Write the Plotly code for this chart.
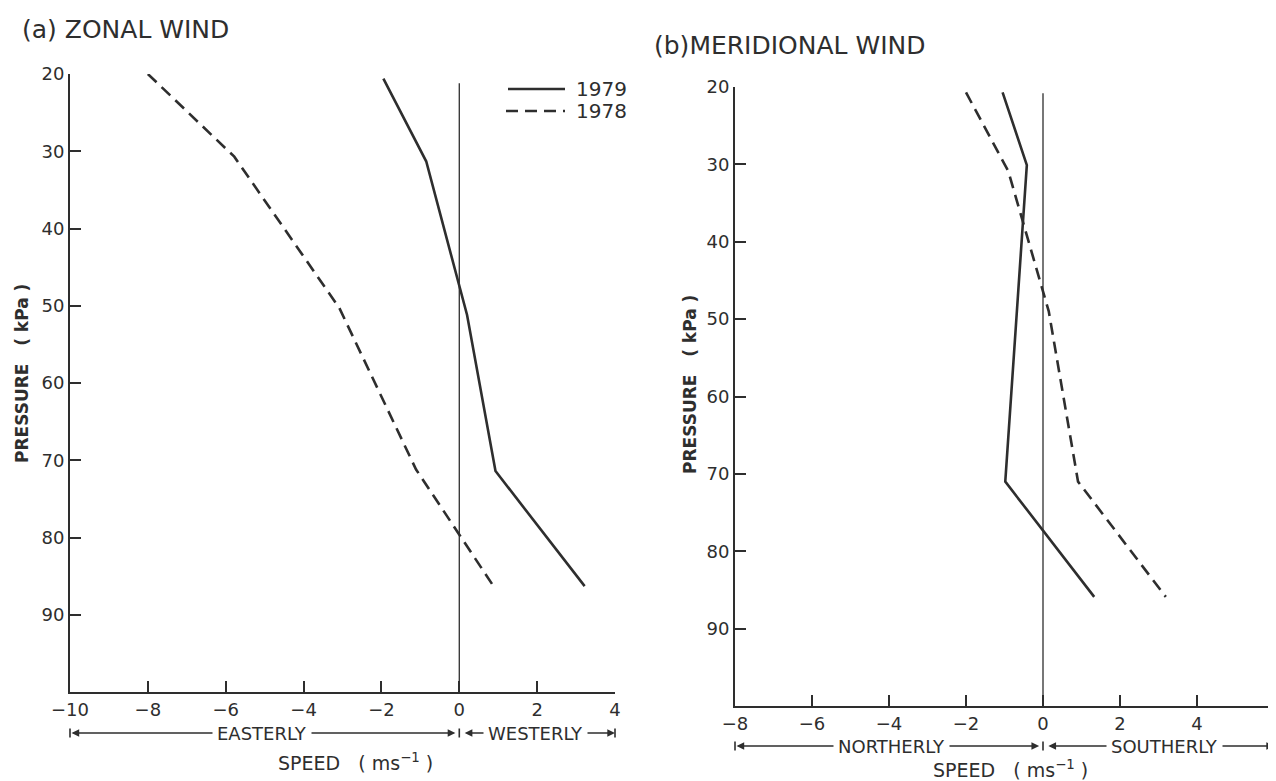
import plotly.graph_objects as go

# ---------------- data ----------------
zonal_1979_speed = [-1.95, -0.85, 0.2, 0.93, 3.22]
zonal_1979_pres = [20.6, 31.3, 51.2, 71.4, 86.3]
zonal_1978_speed = [-8.0, -5.78, -3.08, -1.11, 0.84]
zonal_1978_pres = [20.0, 30.7, 50.3, 71.2, 86.0]

merid_1979_speed = [-1.05, -0.42, -0.98, 1.33]
merid_1979_pres = [20.7, 30.1, 71.0, 85.9]
merid_1978_speed = [-2.0, -0.9, 0.15, 0.91, 3.19]
merid_1978_pres = [20.7, 30.9, 49.0, 71.0, 85.9]

pressure_ticks = [20, 30, 40, 50, 60, 70, 80, 90]
zonal_xticks = [-10, -8, -6, -4, -2, 0, 2, 4]
merid_xticks = [-8, -6, -4, -2, 0, 2, 4, 6]

W, H = 1276, 781
OFF = 8  # page body margin
INK = "#2e2e2e"
FONT = "DejaVu Sans"


def px(x):
    return (x - OFF) / W


def py(y):
    return 1 - (y - OFF) / H


def lab(v):
    return str(v).replace("-", "\u2212")


fig = go.Figure()

line_w = 2.6
dash = "12px,7px"
fig.add_trace(go.Scatter(x=zonal_1979_speed, y=zonal_1979_pres, mode="lines",
                         line=dict(color=INK, width=line_w), name="1979",
                         xaxis="x", yaxis="y", showlegend=False))
fig.add_trace(go.Scatter(x=zonal_1978_speed, y=zonal_1978_pres, mode="lines",
                         line=dict(color=INK, width=line_w, dash=dash), name="1978",
                         xaxis="x", yaxis="y", showlegend=False))
fig.add_trace(go.Scatter(x=merid_1979_speed, y=merid_1979_pres, mode="lines",
                         line=dict(color=INK, width=line_w), name="1979",
                         xaxis="x2", yaxis="y2", showlegend=False))
fig.add_trace(go.Scatter(x=merid_1978_speed, y=merid_1978_pres, mode="lines",
                         line=dict(color=INK, width=line_w, dash=dash), name="1978",
                         xaxis="x2", yaxis="y2", showlegend=False))

axis_common = dict(showline=True, linecolor=INK, linewidth=2, ticks="inside",
                   ticklen=11, tickwidth=2, tickcolor=INK, showgrid=False,
                   zeroline=False, automargin=False,
                   tickfont=dict(family=FONT, size=18, color=INK))

fig.update_layout(
    width=W, height=H,
    template="none",
    margin=dict(l=0, r=0, t=0, b=0, autoexpand=False),
    paper_bgcolor="white", plot_bgcolor="white",
    xaxis=dict(domain=[px(70), px(615)], range=[-10, 4], tickvals=zonal_xticks,
               ticktext=[lab(v) for v in zonal_xticks], anchor="y", **axis_common),
    yaxis=dict(domain=[py(692), py(74)], range=[100, 20], tickvals=pressure_ticks,
               anchor="x", **axis_common),
    xaxis2=dict(domain=[px(735), px(1274)], range=[-8, 6], tickvals=merid_xticks,
                ticktext=[lab(v) for v in merid_xticks], anchor="y2", **axis_common),
    yaxis2=dict(domain=[py(706), py(87)], range=[100, 20], tickvals=pressure_ticks,
                anchor="x2", **axis_common),
)

# zero reference lines
fig.add_shape(type="line", xref="x", yref="y", x0=0, x1=0, y0=21.2, y1=100,
              line=dict(color=INK, width=1.3))
fig.add_shape(type="line", xref="x2", yref="y2", x0=0, x1=0, y0=20.8, y1=100,
              line=dict(color=INK, width=1.3))

# legend (drawn manually)
fig.add_shape(type="line", xref="paper", yref="paper", x0=px(508), x1=px(565),
              y0=py(89), y1=py(89), line=dict(color=INK, width=line_w))
fig.add_shape(type="line", xref="paper", yref="paper", x0=px(506), x1=px(565),
              y0=py(111), y1=py(111), line=dict(color=INK, width=line_w, dash=dash))
ann = []
ann.append(dict(x=px(574), y=py(89), xref="paper", yref="paper", text="1979",
                showarrow=False, xanchor="left", yanchor="middle",
                font=dict(family=FONT, size=20, color=INK)))
ann.append(dict(x=px(574), y=py(111), xref="paper", yref="paper", text="1978",
                showarrow=False, xanchor="left", yanchor="middle",
                font=dict(family=FONT, size=20, color=INK)))

# titles
ann.append(dict(x=px(20), y=py(29), xref="paper", yref="paper", text="(a) ZONAL WIND",
                showarrow=False, xanchor="left", yanchor="middle",
                font=dict(family=FONT, size=25, color=INK)))
ann.append(dict(x=px(652), y=py(45), xref="paper", yref="paper", text="(b)MERIDIONAL WIND",
                showarrow=False, xanchor="left", yanchor="middle",
                font=dict(family=FONT, size=25, color=INK)))

# y-axis titles
for xx, yy in [(22, 374), (690, 385)]:
    ann.append(dict(x=px(xx), y=py(yy), xref="paper", yref="paper",
                    text="<b>PRESSURE&nbsp;&nbsp;&nbsp;( kPa )</b>", textangle=-90,
                    showarrow=False, xanchor="center", yanchor="middle",
                    font=dict(family=FONT, size=17, color=INK)))

# speed titles
ann.append(dict(x=-2.67, y=py(762), xref="x", yref="paper",
                text="SPEED&nbsp;&nbsp;&nbsp;( ms<sup>\u22121</sup> )", showarrow=False,
                xanchor="center", yanchor="middle",
                font=dict(family=FONT, size=19, color=INK)))
ann.append(dict(x=-0.85, y=py(769), xref="x2", yref="paper",
                text="SPEED&nbsp;&nbsp;&nbsp;( ms<sup>\u22121</sup> )", showarrow=False,
                xanchor="center", yanchor="middle",
                font=dict(family=FONT, size=19, color=INK)))


def arrow_row(xref, yrow, a, b, label, label_x):
    y = py(yrow)
    # double-headed arrow from a to b
    ann.append(dict(x=b, y=y, ax=a, ay=0, xref=xref, yref="paper", axref=xref,
                    ayref="pixel", text="", showarrow=True, arrowhead=2,
                    startarrowhead=2, arrowside="end+start", arrowsize=1.1,
                    arrowwidth=1.4, arrowcolor=INK, standoff=0, startstandoff=0))
    ann.append(dict(x=label_x, y=y, xref=xref, yref="paper", text=label,
                    showarrow=False, bgcolor="white", borderpad=4,
                    xanchor="center", yanchor="middle",
                    font=dict(family=FONT, size=18, color=INK)))


def bar(xref, yrow, xv):
    y = py(yrow)
    for d in (6, -6):
        ann.append(dict(x=xv, y=y, ax=0, ay=d, xref=xref, yref="paper",
                        axref="pixel", ayref="pixel", text="", showarrow=True,
                        arrowhead=0, arrowwidth=1.6, arrowcolor=INK, standoff=0))


arrow_row("x", 733, -10, -0.1, "EASTERLY", -5.06)
arrow_row("x", 733, 0.1, 4, "WESTERLY", 1.95)
for v in (-10, 0, 4):
    bar("x", 733, v)

arrow_row("x2", 746, -8, -0.1, "NORTHERLY", -3.93)
arrow_row("x2", 746, 0.1, 6, "SOUTHERLY", 3.15)
for v in (-8, 0, 6):
    bar("x2", 746, v)

fig.update_layout(annotations=ann)

fig.write_html("out.html")
